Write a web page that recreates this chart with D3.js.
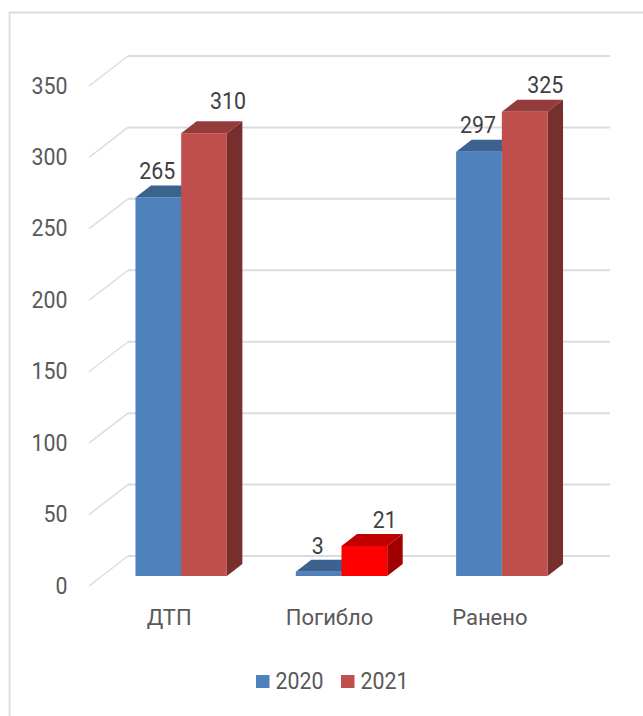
<!DOCTYPE html>
<html>
<head>
<meta charset="utf-8">
<script src="https://cdn.jsdelivr.net/npm/d3@7"></script>
<style>
  html, body { margin: 0; padding: 0; background: #fff; }
  text { font-family: Roboto, sans-serif; }
</style>
</head>
<body>
<div id="chart"></div>
<script>
// data
const categories = ["ДТП", "Погибло", "Ранено"];
const years = ["2020", "2021"];
const values2020 = [265, 3, 297];
const values2021 = [310, 21, 325];
const yTicks = [0, 50, 100, 150, 200, 250, 300, 350];

// layout of the fake 3d box
const width = 643, height = 716;
const depthX = 15.5, depthY = 12;
const digitWidth = 12; // original digits are narrower than Roboto's

const svg = d3.select("#chart").append("svg")
  .attr("width", width)
  .attr("height", height)
  .style("display", "block");

// outer frame, cut off by the right and bottom of the window
svg.append("path")
  .attr("d", "M9.5,716V12.5H643")
  .attr("fill", "none")
  .attr("stroke", "#dcdcdc")
  .attr("stroke-width", 1.8);

const x = d3.scaleBand()
  .domain(categories)
  .range([101, 582])
  .paddingInner(0.43)
  .paddingOuter(0.215);

const xYear = d3.scaleBand()
  .domain(years)
  .range([0, x.bandwidth()]);

const y = d3.scaleLinear()
  .domain([0, 350])
  .range([576, 76]);

// grid: slanted side wall + back wall
const grid = svg.append("g").attr("fill", "none").attr("stroke", "#dcdcdc");
grid.selectAll("path.side")
  .data(yTicks).enter().append("path")
  .attr("class", "side")
  .attr("stroke-width", 1.4)
  .attr("d", d => d3.line()([[89, y(d) + 10], [128, y(d) - 20]]));
grid.selectAll("path.back")
  .data(yTicks).enter().append("path")
  .attr("class", "back")
  .attr("stroke-width", 2)
  .attr("d", d => d3.line()([[128, y(d) - 20], [610, y(d) - 20]]));

// y axis labels
svg.append("g")
  .attr("transform", "translate(67.5,0)")
  .call(d3.axisLeft(y).tickValues(yTicks).tickSize(0).tickPadding(0))
  .call(g => g.select(".domain").remove())
  .selectAll("text")
  .attr("dy", 17)
  .attr("font-size", 23)
  .attr("font-family", "Roboto, sans-serif")
  .attr("fill", "#595959")
  .attr("lengthAdjust", "spacingAndGlyphs")
  .attr("textLength", d => String(d).length * digitWidth);

// category labels
svg.append("g")
  .attr("transform", "translate(-12,609.5)")
  .call(d3.axisBottom(x).tickSize(0).tickPadding(0))
  .call(g => g.select(".domain").remove())
  .selectAll("text")
  .attr("font-size", 22)
  .attr("font-family", "Roboto, sans-serif")
  .attr("fill", "#595959");

// colours: front, top, side
const blue = ["#4f81bd", "#3c6290", "#35577f"];
const red = ["#c0504d", "#933c3a", "#772f2d"];
const brightRed = ["#ff0000", "#c30000", "#a00000"];

const bars = [];
categories.forEach((c, i) => {
  bars.push({ cat: c, year: "2020", value: values2020[i], colors: blue });
  bars.push({ cat: c, year: "2021", value: values2021[i], colors: c === "Погибло" ? brightRed : red });
});

const bar = svg.selectAll("g.bar")
  .data(bars).enter().append("g")
  .attr("class", "bar");

const box = d => ({
  x0: x(d.cat) + xYear(d.year),
  x1: x(d.cat) + xYear(d.year) + xYear.bandwidth(),
  y0: y(d.value),
  y1: y(0)
});

bar.append("path")
  .attr("fill", d => d.colors[1])
  .attr("d", d => {
    const b = box(d);
    return d3.line()([[b.x0, b.y0], [b.x0 + depthX, b.y0 - depthY], [b.x1 + depthX, b.y0 - depthY], [b.x1, b.y0]]) + "Z";
  });
bar.append("path")
  .attr("fill", d => d.colors[2])
  .attr("d", d => {
    const b = box(d);
    return d3.line()([[b.x1, b.y0], [b.x1 + depthX, b.y0 - depthY], [b.x1 + depthX, b.y1 - depthY], [b.x1, b.y1]]) + "Z";
  });
bar.append("rect")
  .attr("fill", d => d.colors[0])
  .attr("x", d => box(d).x0)
  .attr("y", d => box(d).y0)
  .attr("width", xYear.bandwidth())
  .attr("height", d => box(d).y1 - box(d).y0);

// value labels, nudged the way the original sits them
const labelDx = [-1, 24, -1, 20.5, -1, 20.5];
const labelDy = [-18, -24, -17.7, -18, -18.7, -19];
svg.selectAll("text.value")
  .data(bars).enter().append("text")
  .attr("class", "value")
  .attr("x", (d, i) => (box(d).x0 + box(d).x1) / 2 + labelDx[i])
  .attr("y", (d, i) => y(d.value) + labelDy[i])
  .attr("text-anchor", "middle")
  .attr("font-size", 23)
  .attr("fill", "#404040")
  .attr("lengthAdjust", "spacingAndGlyphs")
  .attr("textLength", d => String(d.value).length * digitWidth)
  .text(d => d.value);

// legend
const legendColor = d3.scaleOrdinal().domain(years).range([blue[0], red[0]]);
const legendX = d3.scalePoint().domain(years).range([256, 341]);
const legend = svg.selectAll("g.legend")
  .data(years).enter().append("g")
  .attr("class", "legend")
  .attr("transform", d => "translate(" + legendX(d) + ",675)");
legend.append("rect")
  .attr("width", 13.5)
  .attr("height", 13)
  .attr("fill", d => legendColor(d));
legend.append("text")
  .attr("x", 19.5)
  .attr("y", 14)
  .attr("font-size", 23)
  .attr("fill", "#595959")
  .attr("lengthAdjust", "spacingAndGlyphs")
  .attr("textLength", d => d.length * digitWidth)
  .text(d => d);
</script>
</body>
</html>
